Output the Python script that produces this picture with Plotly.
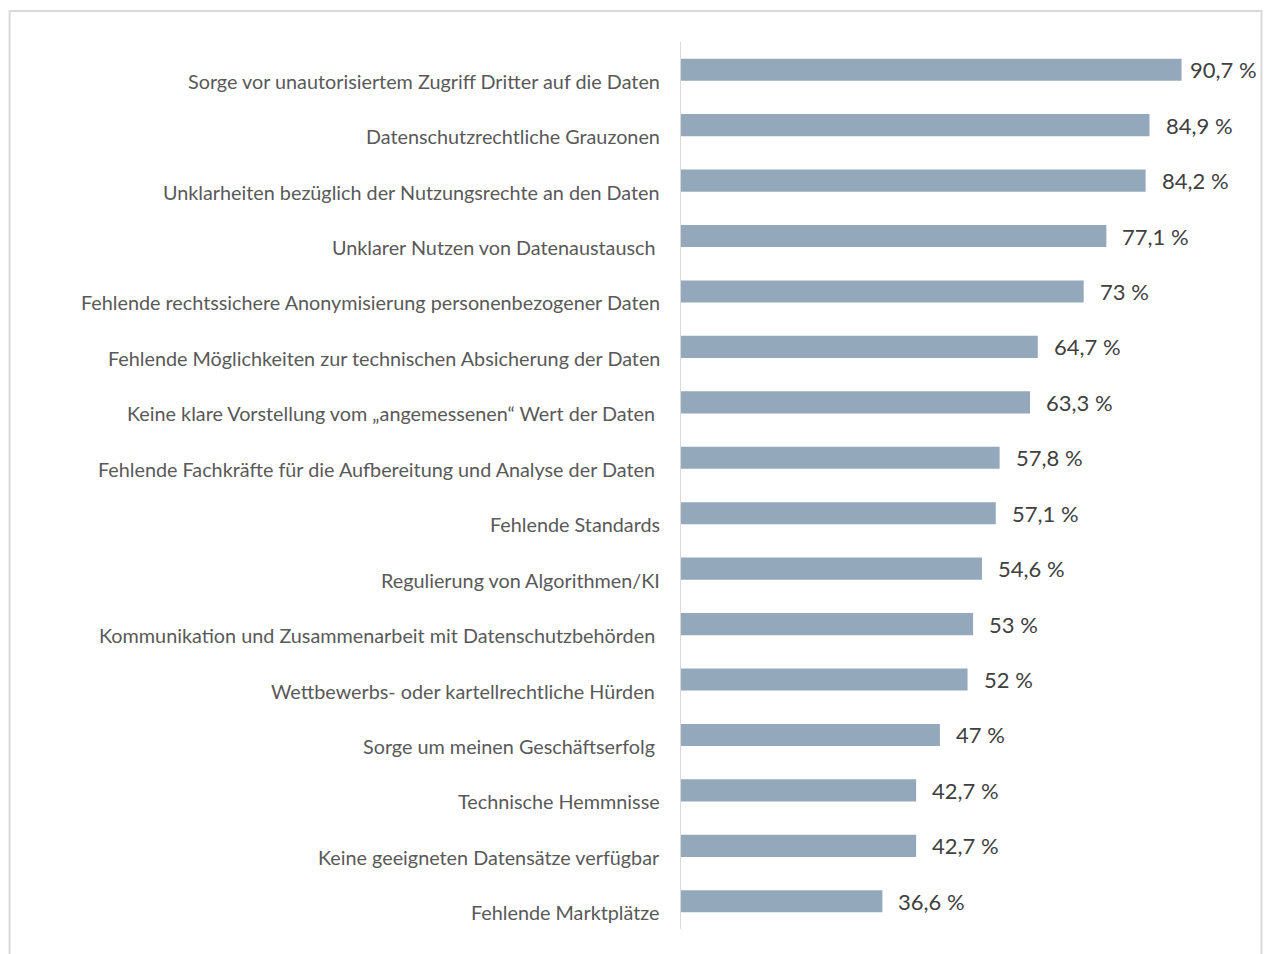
import plotly.graph_objects as go

categories = [
    "Sorge vor unautorisiertem Zugriff Dritter auf die Daten",
    "Datenschutzrechtliche Grauzonen",
    "Unklarheiten bezüglich der Nutzungsrechte an den Daten",
    "Unklarer Nutzen von Datenaustausch ",
    "Fehlende rechtssichere Anonymisierung personenbezogener Daten",
    "Fehlende Möglichkeiten zur technischen Absicherung der Daten",
    "Keine klare Vorstellung vom „angemessenen“ Wert der Daten ",
    "Fehlende Fachkräfte für die Aufbereitung und Analyse der Daten ",
    "Fehlende Standards",
    "Regulierung von Algorithmen/KI",
    "Kommunikation und Zusammenarbeit mit Datenschutzbehörden ",
    "Wettbewerbs- oder kartellrechtliche Hürden ",
    "Sorge um meinen Geschäftserfolg ",
    "Technische Hemmnisse",
    "Keine geeigneten Datensätze verfügbar",
    "Fehlende Marktplätze",
]
values = [90.7, 84.9, 84.2, 77.1, 73, 64.7, 63.3, 57.8, 57.1, 54.6, 53, 52, 47, 42.7, 42.7, 36.6]
value_labels = [(f"{v:g}").replace(".", ",") + " %" for v in values]

W, H = 1264, 954
ml, mr, mt, mb = 680, 30.5, 42, 25
FONT = "Lato"

fig = go.Figure()
fig.add_trace(go.Bar(
    x=values, y=categories, orientation="h",
    marker=dict(color="#94a8bc", line=dict(width=0)),
    width=0.4, hoverinfo="skip",
))

vmax = max(values)
annotations = []
for c, v, t in zip(categories, values, value_labels):
    annotations.append(dict(
        x=v, y=c, xref="x", yref="y", text=t, showarrow=False,
        xanchor="left", yanchor="middle", xshift=6 if v == vmax else 14,
        font=dict(family=FONT, size=22, color="#404040"),
    ))
    annotations.append(dict(
        x=0, y=c, xref="paper", yref="y", text=c.rstrip(), showarrow=False,
        xanchor="right", yanchor="middle",
        xshift=-18 - (5 if c.endswith(" ") else 0), yshift=-11,
        font=dict(family=FONT, size=19.8, color="#595959"),
    ))

pw = W - ml - mr
ph = H - mt - mb
def px_to_paper_x(px):
    return (px - ml) / pw
def px_to_paper_y(py):
    return (H - mb - py) / ph

fig.update_layout(
    width=W, height=H,
    margin=dict(l=ml, r=mr, t=mt, b=mb),
    paper_bgcolor="white", plot_bgcolor="white",
    showlegend=False,
    bargap=0.6,
    xaxis=dict(range=[0, 100], showgrid=False, zeroline=False, showticklabels=False,
               showline=False, fixedrange=True),
    yaxis=dict(autorange="reversed", showticklabels=False, showgrid=False, zeroline=False,
               showline=False, ticks="", fixedrange=True),
    annotations=annotations,
    shapes=[
        dict(type="line", xref="x", yref="paper", x0=0, x1=0, y0=0, y1=1,
             line=dict(color="#d9d9d9", width=2)),
        dict(type="rect", xref="paper", yref="paper",
             x0=px_to_paper_x(9), x1=px_to_paper_x(1262),
             y0=px_to_paper_y(970), y1=px_to_paper_y(11),
             line=dict(color="#d9d9d9", width=2), layer="below"),
    ],
)

fig.write_html(
    "out.html",
    config={"displayModeBar": False},
    post_script="document.body.style.margin='0px';document.body.style.overflow='hidden';",
)
